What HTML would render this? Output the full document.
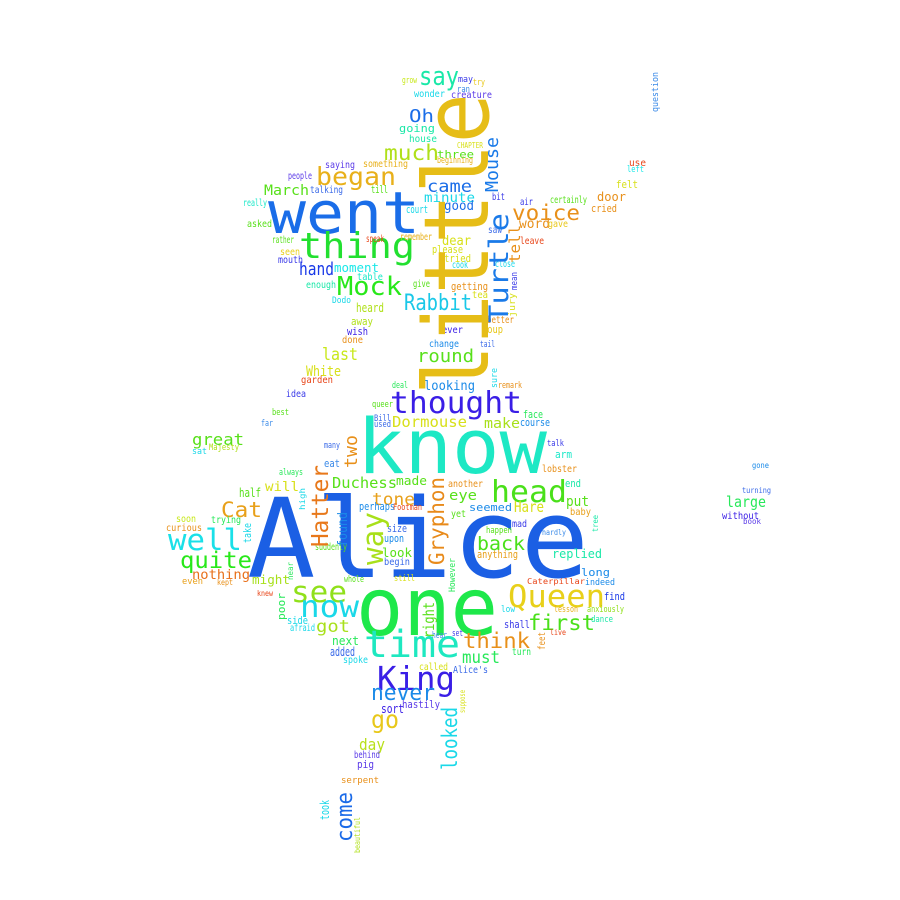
<!DOCTYPE html>
<html>
<head>
<meta charset="utf-8">
<style>
html,body{margin:0;padding:0;background:#fff;}
svg{display:block;}
text{font-family:"DejaVu Sans Mono","Liberation Mono",monospace;}
</style>
</head>
<body>
<svg id="cloud" width="900" height="900" viewBox="0 0 900 900" xmlns="http://www.w3.org/2000/svg">
<rect x="0" y="0" width="900" height="900" fill="#ffffff"/>
<g id="words"></g>
</svg>
<script>
// word list (horizontal words first, then vertical words)
const words = [
"Alice","one","know","went","thing","time","King","Queen","head","thought",
"see","now","well","quite","Cat","nothing","might","great","will","back",
"first","think","must","Duchess","made","tone","Dormouse","make","eye","got",
"Hare","put","seemed","look","replied","long","Caterpillar","never","go","day",
"hastily","sort","behind","pig","serpent","looking","say","Oh","much","began",
"March","came","minute","good","going","house","three","wonder","creature","voice",
"word","door","cried","felt","use","left","Mock","hand","moment","table",
"enough","heard","Rabbit","till","court","speak","rather","round","last","White",
"garden","wish","done","away","ever","Soup","change","better","dear","please",
"tried","getting","tea","Dodo","large","without","book","turning","gone","find",
"anxiously","dance","indeed","talk","arm","lobster","end","baby","lesson","live",
"idea","best","far","Majesty","sat","half","soon","curious","trying","kept",
"even","afraid","side","next","added","spoke","whole","suddenly","upon","size",
"perhaps","Footman","another","still","begin","called","Alice's","shall","low","hear",
"set","turn","mad","yet","happen","anything","course","face","many","eat",
"Bill","used","queer","deal","always","knew","hardly","saying","something","people",
"talking","asked","really","certainly","air","bit","gave","leave","saw","close",
"cook","give","seen","mouth","remember","grow","may","ran","try","CHAPTER",
"beginning","tail","remark",
"little","Turtle","Mouse","tell","Hatter","way","Gryphon","two","found","right",
"looked","come","took","beautiful","question","However","take","poor","tree","feet",
"jury","mean","sure","suppose","high","near"
];
// font sizes (word weight)
const sizes = [
110,80,76,58,36,37,33,31,30,30,
29,30,29,23,21,13,12,16,13,19,
21,21,17,15,12,17,15,14,14,17,
15,14,11,12,12,11,8,22,25,16,
11,12,10,11,9,13,26,18,21,25,
14,17,13,13,11,10,11,10,10,21,
13,12,11,11,10,9,26,18,12,10,
10,12,22,11,11,10,10,18,17,14,
10,11,10,11,10,11,10,10,13,11,
11,11,10,9,15,10,8,8,8,11,
9,9,9,9,11,10,11,10,9,8,
10,9,9,9,9,12,10,10,10,8,
9,10,11,12,12,10,9,10,11,11,
11,9,10,9,10,10,10,11,9,9,
9,10,10,10,9,11,11,11,9,11,
9,9,9,9,9,8,8,10,10,10,
10,10,10,10,10,10,10,10,10,10,
10,10,10,10,10,9,9,9,9,8,
9,9,9,
90,27,18,15,23,29,21,18,13,15,
21,22,12,8,9,9,11,11,8,10,
9,9,9,8,8,8
];
// placement: [x, baseline y, span length, vertical?]
const layout = [
[247,577,342,0],[356,635,142,0],[357,473,190,0],[268,233,152,0],[299,258,116,0],[364,657,96,0],[377,690,78,0],[508,607,97,0],[491,502,76,0],[390,413,132,0],
[291,602,56,0],[300,617,59,0],[168,550,74,0],[180,568,72,0],[221,517,41,0],[192,579,58,0],[252,584,38,0],[192,445,52,0],[265,491,34,0],[477,550,48,0],
[528,630,67,0],[463,648,67,0],[462,663,38,0],[332,488,65,0],[396,485,31,0],[372,505,43,0],[392,427,75,0],[484,428,36,0],[449,500,28,0],[316,632,34,0],
[514,512,30,0],[566,506,23,0],[469,511,43,0],[382,557,30,0],[552,558,50,0],[581,576,29,0],[527,584,58,0],[371,700,64,0],[371,728,28,0],[359,750,26,0],
[402,708,38,0],[381,713,23,0],[354,758,26,0],[357,768,17,0],[341,783,38,0],[424,390,51,0],[419,85,40,0],[409,122,25,0],[384,160,55,0],[316,185,80,0],
[264,195,45,0],[427,192,45,0],[424,202,51,0],[444,210,30,0],[399,132,36,0],[409,142,28,0],[437,158,37,0],[414,97,31,0],[451,98,41,0],[512,220,68,0],
[519,228,31,0],[597,201,29,0],[591,212,26,0],[616,188,22,0],[629,166,17,0],[627,172,17,0],[337,295,65,0],[299,275,35,0],[334,272,45,0],[357,280,26,0],
[306,288,30,0],[356,312,28,0],[404,310,68,0],[371,193,17,0],[406,213,22,0],[366,242,18,0],[272,243,22,0],[417,362,57,0],[322,360,36,0],[306,376,35,0],
[301,383,32,0],[347,335,21,0],[342,343,21,0],[351,325,22,0],[442,333,21,0],[482,333,21,0],[429,347,30,0],[487,323,27,0],[442,245,29,0],[432,253,31,0],
[444,262,27,0],[451,290,37,0],[472,298,16,0],[332,303,19,0],[726,507,40,0],[722,519,37,0],[743,524,18,0],[742,493,29,0],[752,468,17,0],[604,600,21,0],
[587,612,37,0],[591,622,22,0],[585,585,30,0],[547,446,17,0],[555,458,17,0],[542,472,35,0],[565,487,16,0],[570,515,21,0],[554,612,24,0],[550,635,16,0],
[286,397,20,0],[272,415,17,0],[261,426,12,0],[209,450,30,0],[192,454,15,0],[239,497,22,0],[176,522,20,0],[166,531,36,0],[211,523,30,0],[217,585,16,0],
[182,584,21,0],[290,631,25,0],[287,624,21,0],[332,645,27,0],[330,656,25,0],[343,663,25,0],[344,582,20,0],[315,550,32,0],[384,542,20,0],[387,532,20,0],
[359,510,36,0],[393,510,29,0],[448,487,35,0],[394,581,21,0],[384,565,26,0],[419,670,29,0],[453,673,35,0],[504,628,26,0],[501,612,14,0],[432,638,15,0],
[452,636,11,0],[512,655,19,0],[512,527,15,0],[451,517,15,0],[486,533,26,0],[477,558,41,0],[520,426,30,0],[523,418,20,0],[324,448,16,0],[324,467,16,0],
[374,421,17,0],[374,427,17,0],[372,407,21,0],[392,388,16,0],[279,475,24,0],[257,596,16,0],[542,535,24,0],[325,168,30,0],[363,167,45,0],[288,179,24,0],
[310,193,33,0],[247,227,25,0],[243,206,24,0],[550,203,37,0],[520,205,13,0],[492,200,13,0],[548,227,20,0],[520,244,24,0],[488,233,14,0],[495,267,20,0],
[452,268,16,0],[413,287,17,0],[280,255,20,0],[278,263,25,0],[400,240,32,0],[402,83,15,0],[458,82,15,0],[457,92,13,0],[473,85,12,0],[457,148,26,0],
[437,163,36,0],[480,347,15,0],[498,388,24,0],
[488,395,302,1],[508,323,110,1],[498,192,55,1],[520,263,38,1],[328,547,82,1],[383,565,53,1],[444,565,88,1],[357,468,33,1],[347,547,35,1],[434,638,36,1],
[457,770,63,1],[352,842,50,1],[329,820,20,1],[360,853,36,1],[658,112,40,1],[455,592,34,1],[251,543,20,1],[285,620,27,1],[598,532,17,1],[545,650,18,1],
[515,317,24,1],[517,290,18,1],[497,388,20,1],[465,713,23,1],[305,510,22,1],[293,580,18,1]
];
// colours
const colors = [
"#1b5fe4","#1ee84a","#1de8c4","#1a6de8","#22e030","#1ee8c0","#3a1ee6","#e8d01a","#4ae01a","#3a1ee6",
"#90e01a","#1ad8e8","#1ae0e8","#28e81a","#e8a01a","#e8701a","#a8e01a","#58e01a","#d8e01a","#4ae01a",
"#4ae01a","#e8901a","#28e85a","#58e01a","#58e01a","#e8a01a","#d8e01a","#a8e01a","#58e01a","#a8e01a",
"#d8e01a","#58e01a","#1a8ae8","#58e01a","#1ae8a8","#1a8ae8","#e8461a","#1a8ae8","#e8c81a","#b8e01a",
"#5a3ae8","#3a1ee6","#5a3ae8","#5a3ae8","#e8901a","#1a8ae8","#1ae8a8","#1a6de8","#b0e01a","#e8b01a",
"#58e01a","#1a6de8","#1ad8e8","#1a6de8","#1ae8a8","#1ae8a8","#58e01a","#1ad8e8","#5a3ae8","#e8901a",
"#e8901a","#e8901a","#e8901a","#d8e01a","#e8461a","#1ae8e8","#28e81a","#1a3ae8","#1ae8e8","#1ae8c8",
"#1ae8a8","#b0e01a","#1ac8e8","#58e01a","#1ad8e8","#e8461a","#58e01a","#58e01a","#c8e81a","#d8e01a",
"#e8461a","#3a1ee6","#e8901a","#b0e01a","#3a1ee6","#e8c81a","#1a8ae8","#e8901a","#d8e01a","#d8e01a",
"#d8e01a","#e8901a","#d8e01a","#1ad8e8","#28e85a","#3a1ee6","#5a3ae8","#3a6ae8","#1a8ae8","#1a3ae8",
"#90e01a","#1ae8a8","#1a8ae8","#3a3ae8","#1ae8c8","#e8901a","#1ae8a8","#e8a01a","#e8b01a","#e8461a",
"#3a3ae8","#58e01a","#3a8ae8","#b0e01a","#1ad8e8","#58e01a","#c8e81a","#e8901a","#28e85a","#e8901a",
"#e8a01a","#1ad8e8","#1ad8e8","#28e85a","#3a6ae8","#1ad8e8","#58e01a","#58e01a","#1a8ae8","#3a6ae8",
"#1a8ae8","#e8461a","#e8901a","#d8e01a","#3a6ae8","#d8e01a","#3a6ae8","#3a3ae8","#1ad8e8","#3a8ae8",
"#3a3ae8","#28e85a","#3a3ae8","#58e01a","#58e01a","#e8a01a","#1a8ae8","#28e85a","#3a6ae8","#3a8ae8",
"#3a6ae8","#3a6ae8","#58e01a","#28e85a","#28e85a","#e8461a","#3a8ae8","#5a3ae8","#e8b01a","#5a3ae8",
"#3a6ae8","#58e01a","#1ae8c8","#58e01a","#3a3ae8","#3a3ae8","#e8c81a","#e8461a","#3a6ae8","#1ad8e8",
"#1ad8e8","#58e01a","#e8d01a","#3a3ae8","#e8b01a","#c8e81a","#3a3ae8","#3a8ae8","#e8c81a","#d8e01a",
"#e8b01a","#3a6ae8","#e8901a",
"#e6bd17","#1a7ae8","#1a7ae8","#e8901a","#e8781a","#a8e01a","#e88a1a","#e8901a","#1a8ae8","#58e01a",
"#1ad8e8","#1a6ae8","#1ad8e8","#b0e01a","#3a8ae8","#28e85a","#1ad8e8","#28e85a","#1ae8a8","#e8901a",
"#d8e01a","#3a3ae8","#1ad8e8","#d8e01a","#1ad8e8","#28e85a"
];

const NS = "http://www.w3.org/2000/svg";
const group = document.getElementById("words");
function slug(w){ return w.toLowerCase().replace(/[^a-z0-9]+/g, "-"); }
for (let i = 0; i < words.length; i++) {
  const p = layout[i];
  const t = document.createElementNS(NS, "text");
  t.setAttribute("x", 0);
  t.setAttribute("y", 0);
  t.setAttribute("font-size", sizes[i]);
  t.setAttribute("fill", colors[i]);
  t.setAttribute("textLength", p[2]);
  t.setAttribute("lengthAdjust", "spacingAndGlyphs");
  const rot = p[3] ? " rotate(-90)" : "";
  t.setAttribute("transform", "translate(" + p[0] + "," + p[1] + ")" + rot);
  
  
  t.textContent = words[i];
  group.appendChild(t);
}
</script>
</body>
</html>
